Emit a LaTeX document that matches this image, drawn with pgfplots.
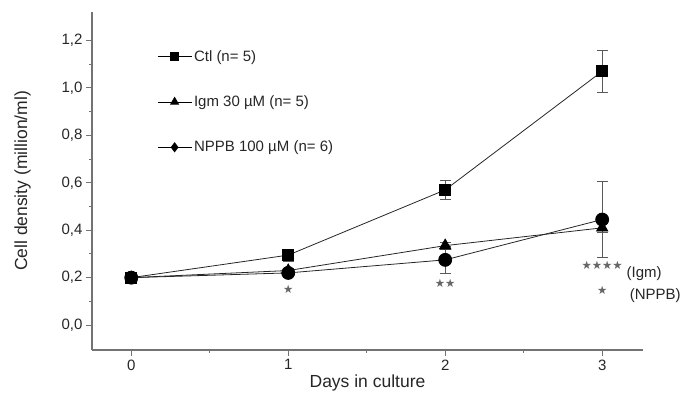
\documentclass[border=0pt]{standalone}
\usepackage{fontspec}
\setmainfont{Liberation Sans}
\newfontfamily\symfont{DejaVu Sans}
\usepackage{pgfplots}
\pgfplotsset{compat=1.18}

\definecolor{axgray}{gray}{0.45}
\definecolor{errgray}{gray}{0.35}

\begin{document}
\begin{tikzpicture}[x=1pt,y=1pt]
\useasboundingbox (0,0) rectangle (681,406);
\begin{axis}[
    at={(92pt,56pt)}, anchor=south west,
    scale only axis, width=551pt, height=338pt,
    xmin=-0.25, xmax=3.26, ymin=-0.105, ymax=1.32,
    clip=false,
    axis lines*=left,
    axis line style={axgray, line width=1.3pt},
    tick style={axgray, line width=1pt},
    tick align=outside,
    major tick length=6pt, minor tick length=3pt,
    xtick={0,1,2,3}, minor xtick={0.5,1.5,2.5},
    ytick={0,0.2,...,1.2}, minor ytick={0.1,0.3,...,1.1},
    /pgf/number format/assume math mode=true,
    yticklabel style={/pgf/number format/.cd, fixed, fixed zerofill, precision=1, use comma},
    ticklabel style={font=\fontsize{15}{17}\selectfont, text=black!85},
    xlabel={Days in culture}, ylabel={Cell density (million/ml)},
    label style={font=\fontsize{17.5}{20}\selectfont, text=black!85},
    xlabel style={yshift=2pt},
    ylabel style={yshift=24pt},
    legend style={draw=none, fill=none, at={(0.118,0.893)}, anchor=north west,
        font=\fontsize{15}{17}\selectfont, row sep=29pt, inner sep=0pt,
        cells={anchor=west}, text=black!85},
    legend image code/.code={%
        \draw[mark repeat=2, mark phase=2, #1] plot coordinates {(0pt,0pt) (17pt,0pt) (34pt,0pt)};},
    every axis plot/.append style={black!85, line width=0.8pt},
    error bars/error bar style={errgray, line width=0.8pt},
    error bars/error mark options={rotate=90, mark size=5.5pt, errgray, line width=0.8pt},
]
% Ctl
\addplot[forget plot, mark=square*, mark size=5.5pt, mark options={fill=black, draw=black},
    error bars/.cd, y dir=both, y explicit]
  coordinates {(0,0.20) +- (0,0.01) (1,0.295) +- (0,0.025) (2,0.57) +- (0,0.04) (3,1.07) +- (0,0.09)};
% Igm 30 uM
\addplot[forget plot, mark=triangle*, mark size=6.5pt, mark options={fill=black, draw=black},
    error bars/.cd, y dir=both, y explicit]
  coordinates {(0,0.20) +- (0,0.01) (1,0.23) +- (0,0.01) (2,0.335) +- (0,0.015) (3,0.41) +- (0,0.02)};
% NPPB 100 uM
\addplot[forget plot, mark=*, mark size=6.5pt, mark options={fill=black, draw=black},
    error bars/.cd, y dir=both, y explicit]
  coordinates {(0,0.20) +- (0,0.01) (1,0.22) +- (0,0.015) (2,0.275) +- (0,0.055) (3,0.445) +- (0,0.16)};

\addlegendimage{black, line width=0.8pt, mark=square*, mark size=4pt, mark options={fill=black}}
\addlegendentry{Ctl (n= 5)}
\addlegendimage{black, line width=0.8pt, mark=triangle*, mark size=4.5pt, mark options={fill=black}}
\addlegendentry{Igm 30 µM (n= 5)}
\addlegendimage{black, line width=0.8pt, mark=diamond*, mark size=4.5pt, mark options={fill=black}}
\addlegendentry{NPPB 100 µM (n= 6)}

\begin{scope}[every node/.style={font=\symfont\fontsize{11.5}{13}\selectfont, text=black!60, inner sep=0pt}]
\node at (axis cs:1,0.152) {★};
\node at (axis cs:2,0.176) {★★};
\node at (axis cs:3,0.251) {★★★★};
\node at (axis cs:3,0.148) {★};
\end{scope}
\begin{scope}[every node/.style={font=\fontsize{15}{17}\selectfont, text=black!85, inner sep=0pt, anchor=west}]
\node at (axis cs:3.155,0.215) {(Igm)};
\node at (axis cs:3.175,0.125) {(NPPB)};
\end{scope}
\end{axis}
\end{tikzpicture}
\end{document}
